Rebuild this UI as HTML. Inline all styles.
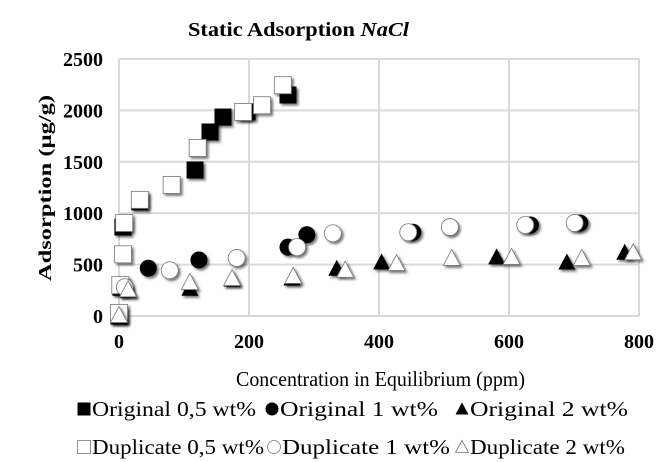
<!DOCTYPE html>
<html><head><meta charset="utf-8"><style>
body{margin:0;background:#fff;width:662px;height:462px;overflow:hidden;font-family:"Liberation Serif",serif}
svg{display:block}
</style></head><body>
<svg id="chart" width="662" height="462" viewBox="0 0 662 462">
<defs><filter id="sh" x="-50%" y="-50%" width="200%" height="200%"><feDropShadow dx="2" dy="2" stdDeviation="1.2" flood-color="#000" flood-opacity="0.55"/></filter></defs>
<text x="188" y="36" font-size="20" font-weight="bold" textLength="221" lengthAdjust="spacingAndGlyphs">Static Adsorption <tspan font-style="italic">NaCl</tspan></text>
<g id="grid"></g><g id="ticks"></g><g id="marks"></g>
<text transform="translate(51,188) rotate(-90)" text-anchor="middle" font-size="18" font-weight="bold" textLength="186" lengthAdjust="spacingAndGlyphs">Adsorption (µg/g)</text>
<text x="236" y="386" font-size="21" textLength="289" lengthAdjust="spacingAndGlyphs">Concentration in Equilibrium (ppm)</text>
<g id="legend" font-size="21"></g>
</svg>
<script>
const xTicks=[0,200,400,600,800];
const yTicks=[0,500,1000,1500,2000,2500];
const orig05X=[0,3,6,32,117,140,160,197,260];
const orig05Y=[0,280,865,1110,1420,1790,1935,1985,2150];
const dup05X=[0,2,6,8,32,81,121,191,220,252];
const dup05Y=[30,300,600,905,1130,1275,1635,1985,2050,2245];
const orig1X=[5,45,123,260,289,452,633,709];
const orig1Y=[280,465,545,670,790,815,885,905];
const dup1X=[9,78,181,274,329,445,509,625,701];
const dup1Y=[280,445,565,670,805,815,865,885,905];
const orig2X=[0,14,109,174,266,335,404,581,689,778];
const orig2Y=[0,250,270,360,370,465,525,575,525,620];
const dup2X=[0,14,109,174,268,348,427,512,604,712,791];
const dup2Y=[10,260,330,370,390,450,515,565,575,565,620];
const NS="http://www.w3.org/2000/svg";
const X0=119,X1=639,Y0=316,Y1=59;
function sx(v){return X0+(v/800)*(X1-X0);}
function sy(v){return Y0-(v/2500)*(Y0-Y1);}
function mk(tag,attrs,parent){const e=document.createElementNS(NS,tag);for(const k in attrs)e.setAttribute(k,attrs[k]);parent.appendChild(e);return e;}
const grid=document.getElementById('grid'),ticks=document.getElementById('ticks'),marks=document.getElementById('marks');
yTicks.forEach(v=>{const l=mk('line',{x1:X0,x2:X1,y1:sy(v),y2:sy(v),stroke:'#d9d9d9','stroke-width':2},grid);


const t=mk('text',{x:103,y:sy(v)+7,'text-anchor':'end','font-size':20,'font-weight':'bold'},ticks);t.textContent=v;

});
xTicks.forEach(v=>{const l=mk('line',{x1:sx(v),x2:sx(v),y1:Y1,y2:Y0,stroke:'#d9d9d9','stroke-width':2},grid);


const t=mk('text',{x:sx(v),y:348,'text-anchor':'middle','font-size':20,'font-weight':'bold'},ticks);t.textContent=v;

});
function shape(type,cx,cy,s,fill,parent,shadow){let e;
if(type==='sq')e=mk('rect',{x:cx-s/2,y:cy-s/2,width:s,height:s},parent);
else if(type==='ci')e=mk('circle',{cx:cx,cy:cy,r:s/2},parent);
else e=mk('polygon',{points:`${cx},${cy-s/2} ${cx-s/2},${cy+s/2-1} ${cx+s/2},${cy+s/2-1}`},parent);
e.setAttribute('fill',fill);e.setAttribute('stroke',fill==='#000'?'#000':'#777');e.setAttribute('stroke-width',fill==='#000'?0:0.8);
if(shadow)e.setAttribute('filter','url(#sh)');return e;}
const series=[['sq','#000',orig05X,orig05Y,'original-0-5'],['ci','#000',orig1X,orig1Y,'original-1'],['tr','#000',orig2X,orig2Y,'original-2'],
['sq','#fff',dup05X,dup05Y,'duplicate-0-5'],['ci','#fff',dup1X,dup1Y,'duplicate-1'],['tr','#fff',dup2X,dup2Y,'duplicate-2']];
series.forEach(([t,f,xs,ys,n])=>{xs.forEach((xv,i)=>{const e=shape(t,sx(xv),sy(ys[i]),17,f,marks,true);

});});
const leg=document.getElementById('legend');
const legItems=[['sq','#000','Original 0,5 wt%',78,416,164],['ci','#000','Original 1 wt%',266,416,158],['tr','#000','Original 2 wt%',456,416,158],
['sq','#fff','Duplicate 0,5 wt%',78,454,172],['ci','#fff','Duplicate 1 wt%',268,454,168],['tr','#fff','Duplicate 2 wt%',456,454,155]];
legItems.forEach(([t,f,label,x,y,w])=>{const g=mk('g',{},leg);


shape(t,x+6,y-7,13,f,g,false);
const tx=mk('text',{x:x+14,y:y,textLength:w,lengthAdjust:'spacingAndGlyphs'},g);tx.textContent=label;});
</script>
</body></html>
